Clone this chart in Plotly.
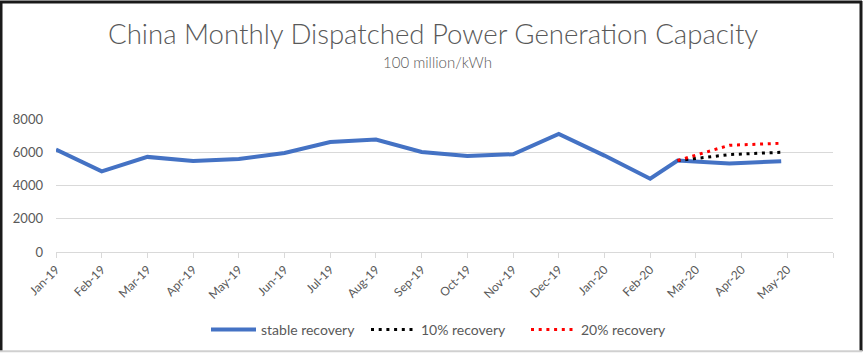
import plotly.graph_objects as go

# ---- data ----
months = ["Jan-19", "Feb-19", "Mar-19", "Apr-19", "May-19", "Jun-19", "Jul-19", "Aug-19",
          "Sep-19", "Oct-19", "Nov-19", "Dec-19", "Jan-20", "Feb-20", "Mar-20", "Apr-20", "May-20"]
history = [6160, 4850, 5720, 5480, 5600, 5960, 6620, 6760, 6020, 5780, 5880, 7100, 5800, 4410]

# scenario series sit on a secondary 16-slot category axis (slots 12..14)
scenario_slot_count = 16
scenario_slots = [12, 13, 14]
stable_forecast = [5500, 5320, 5460]
rec10_forecast = [5500, 5860, 6000]
rec20_forecast = [5500, 6420, 6540]

y_ticks = [0, 2000, 4000, 6000, 8000]

# ---- geometry ----
W, H = 867, 358
PL, PR, PT, PB = 56, 833, 119, 253   # plot area pixel box
n_cat = len(months) + 1               # one extra empty category slot at the end

def slot_to_x(s):
    return s * (n_cat - 1) / (scenario_slot_count - 1)

hist_x = list(range(len(history)))
fc_x = [slot_to_x(s) for s in scenario_slots]

gray = "#595959"
font_fam = "Lato, 'Open Sans', sans-serif"

fig = go.Figure()
fig.add_trace(go.Scatter(
    x=hist_x + fc_x, y=history + stable_forecast, mode="lines",
    name="stable recovery", line=dict(color="#4472C4", width=4),
))
fig.add_trace(go.Scatter(
    x=fc_x, y=rec10_forecast, mode="lines", name="10% recovery",
    line=dict(color="#000000", width=3, dash="3px,4.7px"),
))
fig.add_trace(go.Scatter(
    x=fc_x, y=rec20_forecast, mode="lines", name="20% recovery",
    line=dict(color="#FF0000", width=3, dash="3px,4.7px"),
))

def px_x(p):
    return (p - PL) / (PR - PL)

def px_y(p):
    return (PB - p) / (PB - PT)

shapes = [
    # outer frame
    dict(type="line", xref="paper", yref="paper", x0=px_x(1), x1=px_x(1), y0=px_y(0), y1=px_y(353),
         line=dict(color="#1a1a1a", width=3)),
    dict(type="line", xref="paper", yref="paper", x0=px_x(0), x1=px_x(862), y0=px_y(1), y1=px_y(1),
         line=dict(color="#1a1a1a", width=3)),
    dict(type="line", xref="paper", yref="paper", x0=px_x(861), x1=px_x(861), y0=px_y(0), y1=px_y(353),
         line=dict(color="#1a1a1a", width=3)),
    dict(type="line", xref="paper", yref="paper", x0=px_x(0), x1=px_x(862), y0=px_y(353), y1=px_y(353),
         line=dict(color="#d0d0d0", width=2)),
]

fig.update_layout(
    width=W, height=H,
    margin=dict(l=PL, r=W - PR, t=PT, b=H - PB, pad=0),
    paper_bgcolor="white", plot_bgcolor="white",
    font=dict(family=font_fam, color=gray, size=12),
    showlegend=True,
    legend=dict(orientation="h", xref="container", yref="container", x=446 / W, y=1 - 330 / H,
                xanchor="center", yanchor="middle", font=dict(size=14, color=gray),
                tracegroupgap=0, itemwidth=45, entrywidthmode="pixels", entrywidth=100),
    shapes=shapes,
    annotations=[
        dict(text="China Monthly Dispatched Power Generation Capacity", xref="paper", yref="paper",
             x=px_x(433), y=px_y(33), xanchor="center", yanchor="middle", showarrow=False,
             font=dict(size=27.6, color=gray, family=font_fam, weight=300)),
        dict(text="100 million/kWh", xref="paper", yref="paper",
             x=px_x(437), y=px_y(62), xanchor="center", yanchor="middle", showarrow=False,
             font=dict(size=15, color=gray, family=font_fam, weight=300)),
    ],
)

fig.update_xaxes(
    range=[0, n_cat - 1],
    tickmode="array", tickvals=list(range(n_cat)), ticktext=months + [""],
    tickangle=-45, ticks="outside", ticklen=5, tickcolor="#D9D9D9",
    showline=True, linecolor="#D9D9D9", linewidth=1,
    showgrid=False, zeroline=False, tickfont=dict(size=12, color=gray),
)
fig.update_yaxes(
    range=[0, 8000], tickmode="array", tickvals=y_ticks,
    showgrid=True, gridcolor="#D9D9D9", gridwidth=1, zeroline=False,
    showline=False, ticks="", ticklabelstandoff=12,
    tickfont=dict(size=13, color=gray),
)

fig.write_html("out.html", config={"displayModeBar": False},
               post_script="document.body.style.margin='0px';")
